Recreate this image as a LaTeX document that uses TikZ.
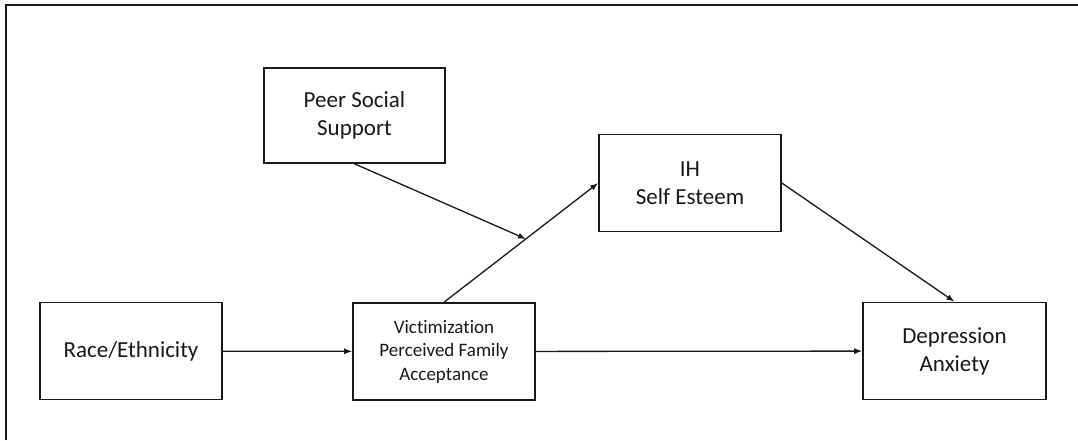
\documentclass[tikz,border=0pt]{standalone}
\usepackage{fontspec}
\setmainfont{Carlito}[Ligatures=NoCommon]
\usetikzlibrary{arrows.meta}
\begin{document}
\begin{tikzpicture}[x=1pt,y=1pt,
  box/.style={draw=black!90, line width=1.6pt, minimum width=182pt, minimum height=97pt, inner sep=0pt, align=center, font=\fontsize{23}{28}\selectfont, text=black!90},
  conn/.style={draw=black!90, line width=1.3pt, -{Latex[length=8pt,width=6pt]}}]
\useasboundingbox (0,0) rectangle (1078,-440);
\draw[black!90, line width=1.8pt] (6,-440) -- (6,-5) -- (1078,-5);
\node[box] (race) at (131,-351) {Race/Ethnicity};
\node[box, font=\fontsize{19}{23.5}\selectfont] (vict) at (444,-351.5) {Victimization\\Perceived Family\\Acceptance};
\node[box, minimum width=183pt] (dep) at (954.5,-351) {Depression\\ Anxiety};
\node[box, minimum width=181pt, minimum height=95pt] (peer) at (354.5,-115.5) {Peer Social\\Support};
\node[box] (ih) at (690,-183) {IH\\Self Esteem};
\coordinate (mod) at (526,-239);
\draw[conn] (race) -- (vict);
\draw[conn] (vict) -- (dep);
\draw[conn] (vict.north) -- (ih.west);
\draw[conn] (peer.south) -- (mod);
\draw[conn] (ih.east) -- (dep.north);
\end{tikzpicture}
\end{document}
